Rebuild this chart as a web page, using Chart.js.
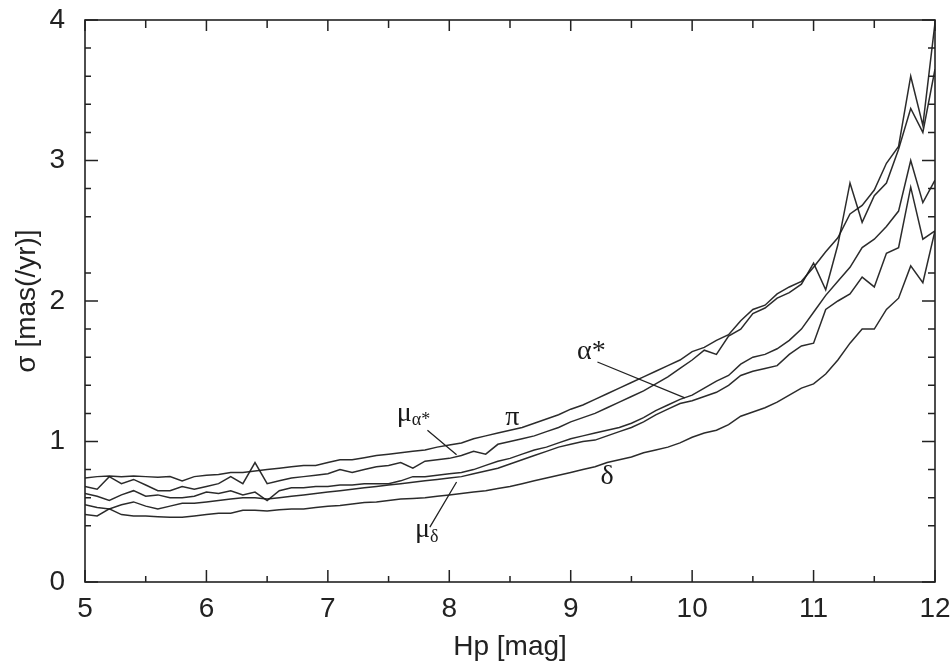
<!DOCTYPE html>
<html>
<head>
<meta charset="utf-8">
<script src="https://cdn.jsdelivr.net/npm/chart.js@4/dist/chart.umd.min.js"></script>
<style>
html,body{margin:0;padding:0;background:#fff;}
#c{display:block;}
</style>
</head>
<body>
<canvas id="c" width="952" height="664"></canvas>
<script>
// ---- data ----
const hp = [5.0,5.1,5.2,5.3,5.4,5.5,5.6,5.7,5.8,5.9,
            6.0,6.1,6.2,6.3,6.4,6.5,6.6,6.7,6.8,6.9,
            7.0,7.1,7.2,7.3,7.4,7.5,7.6,7.7,7.8,7.9,
            8.0,8.1,8.2,8.3,8.4,8.5,8.6,8.7,8.8,8.9,
            9.0,9.1,9.2,9.3,9.4,9.5,9.6,9.7,9.8,9.9,
            10.0,10.1,10.2,10.3,10.4,10.5,10.6,10.7,10.8,10.9,
            11.0,11.1,11.2,11.3,11.4,11.5,11.6,11.7,11.8,11.9,12.0];

const sigmaPi = [0.74,0.75,0.755,0.75,0.755,0.75,0.745,0.75,0.72,0.75,
                 0.76,0.765,0.78,0.78,0.79,0.80,0.81,0.82,0.83,0.83,
                 0.85,0.87,0.87,0.885,0.90,0.91,0.92,0.93,0.94,0.96,
                 0.975,0.99,1.02,1.04,1.06,1.08,1.10,1.13,1.16,1.19,
                 1.23,1.26,1.30,1.34,1.38,1.42,1.46,1.50,1.54,1.58,
                 1.64,1.67,1.72,1.76,1.86,1.94,1.97,2.05,2.10,2.14,
                 2.24,2.35,2.45,2.62,2.68,2.79,2.98,3.10,3.60,3.25,3.98];

const sigmaMuA = [0.68,0.66,0.75,0.70,0.73,0.69,0.65,0.65,0.68,0.66,
                  0.68,0.70,0.75,0.70,0.85,0.70,0.72,0.74,0.75,0.76,
                  0.77,0.80,0.78,0.80,0.82,0.83,0.85,0.81,0.86,0.87,
                  0.88,0.90,0.93,0.91,0.98,1.00,1.02,1.04,1.07,1.10,
                  1.14,1.17,1.20,1.24,1.28,1.32,1.36,1.41,1.46,1.52,
                  1.58,1.65,1.62,1.75,1.80,1.91,1.95,2.02,2.06,2.12,
                  2.27,2.08,2.40,2.84,2.56,2.75,2.84,3.08,3.37,3.20,3.65];

const sigmaA = [0.63,0.61,0.58,0.62,0.65,0.61,0.62,0.60,0.60,0.61,
                0.64,0.63,0.65,0.62,0.64,0.58,0.65,0.67,0.67,0.68,
                0.68,0.69,0.69,0.70,0.70,0.70,0.72,0.75,0.75,0.76,
                0.77,0.78,0.80,0.83,0.86,0.88,0.91,0.94,0.96,0.99,
                1.02,1.04,1.06,1.08,1.10,1.13,1.17,1.22,1.26,1.30,
                1.33,1.38,1.43,1.47,1.55,1.60,1.62,1.66,1.72,1.80,
                1.92,2.04,2.14,2.24,2.38,2.44,2.53,2.64,3.00,2.70,2.86];

const sigmaMuD = [0.55,0.53,0.52,0.55,0.57,0.54,0.52,0.54,0.56,0.56,
                  0.57,0.58,0.59,0.60,0.60,0.59,0.60,0.61,0.62,0.63,
                  0.64,0.65,0.66,0.67,0.68,0.69,0.70,0.71,0.72,0.73,
                  0.74,0.75,0.77,0.79,0.81,0.84,0.87,0.90,0.93,0.96,
                  0.98,1.00,1.01,1.04,1.07,1.10,1.14,1.19,1.23,1.27,
                  1.29,1.32,1.35,1.40,1.47,1.50,1.52,1.54,1.62,1.68,
                  1.70,1.94,2.00,2.05,2.17,2.10,2.34,2.38,2.81,2.44,2.50];

const sigmaD = [0.48,0.47,0.52,0.48,0.47,0.47,0.465,0.46,0.46,0.47,
                0.48,0.49,0.49,0.51,0.51,0.505,0.515,0.52,0.52,0.53,
                0.54,0.545,0.555,0.565,0.57,0.58,0.59,0.595,0.60,0.61,
                0.62,0.63,0.64,0.65,0.665,0.68,0.70,0.72,0.74,0.76,
                0.78,0.80,0.82,0.85,0.87,0.89,0.92,0.94,0.96,0.99,
                1.03,1.06,1.08,1.12,1.18,1.21,1.24,1.28,1.33,1.38,
                1.41,1.48,1.58,1.70,1.80,1.80,1.94,2.02,2.25,2.13,2.50];

const xMajorTicks = [5,6,7,8,9,10,11,12];
const xMinorTicks = [5.5,6.5,7.5,8.5,9.5,10.5,11.5];
const yMajorTicks = [0,1,2,3,4];
const yMinorTicks = [0.4,0.6,0.8,1.2,1.4,1.6,1.8,2.2,2.6,2.8,3.2,3.4,3.6,3.8];

// ---- label annotations (data coordinates) ----
const curveLabels = [
  {main:'π',  sub:'',   x:8.52, y:1.17},
  {main:'μ',  sub:'α*', x:7.63, y:1.20},
  {main:'α*', sub:'',   x:9.17, y:1.64},
  {main:'δ',  sub:'',   x:9.30, y:0.75},
  {main:'μ',  sub:'δ',  x:7.78, y:0.37}
];
const leaderLines = [
  [[7.82,1.08],[8.06,0.905]],
  [[9.22,1.566],[9.94,1.31]],
  [[8.06,0.712],[7.84,0.39]]
];

const series = [sigmaPi, sigmaMuA, sigmaA, sigmaMuD, sigmaD];
const names = ['π','μα*','α*','μδ','δ'];

const datasets = series.map((s,i)=>({
  label: names[i],
  data: hp.map((h,j)=>({x:h, y:s[j]})),
  borderColor:'rgba(25,25,25,0.92)',
  borderWidth:1.5,
  pointRadius:0,
  tension:0,
  fill:false
}));

const framePlugin = {
  id:'frameTicks',
  afterDraw(chart){
    const {ctx, chartArea:{left,right,top,bottom}, scales:{x,y}} = chart;
    ctx.save();
    ctx.strokeStyle='#222';
    ctx.lineWidth=1.6;
    ctx.strokeRect(left,top,right-left,bottom-top);
    ctx.lineWidth=1.5;
    ctx.beginPath();
    xMajorTicks.forEach(v=>{const p=x.getPixelForValue(v);
      ctx.moveTo(p,bottom); ctx.lineTo(p,bottom-12);
      ctx.moveTo(p,top); ctx.lineTo(p,top+11);});
    xMinorTicks.forEach(v=>{const p=x.getPixelForValue(v);
      ctx.moveTo(p,bottom); ctx.lineTo(p,bottom-6);
      ctx.moveTo(p,top); ctx.lineTo(p,top+8);});
    yMajorTicks.forEach(v=>{const p=y.getPixelForValue(v);
      ctx.moveTo(left,p); ctx.lineTo(left+13,p);
      ctx.moveTo(right,p); ctx.lineTo(right-13,p);});
    yMinorTicks.forEach(v=>{const p=y.getPixelForValue(v);
      ctx.moveTo(left,p); ctx.lineTo(left+6,p);
      ctx.moveTo(right,p); ctx.lineTo(right-7,p);});
    ctx.stroke();

    // leader lines
    ctx.lineWidth=1.3;
    ctx.strokeStyle='#222';
    ctx.beginPath();
    leaderLines.forEach(l=>{
      ctx.moveTo(x.getPixelForValue(l[0][0]), y.getPixelForValue(l[0][1]));
      ctx.lineTo(x.getPixelForValue(l[1][0]), y.getPixelForValue(l[1][1]));
    });
    ctx.stroke();

    // labels
    ctx.fillStyle='#1a1a1a';
    ctx.textBaseline='middle';
    curveLabels.forEach(l=>{
      const px=x.getPixelForValue(l.x), py=y.getPixelForValue(l.y);
      ctx.font='28px "Liberation Serif", "DejaVu Serif", serif';
      ctx.textAlign='center';
      ctx.fillText(l.main, px, py);
      if(l.sub){
        const w=ctx.measureText(l.main).width;
        ctx.font='18px "Liberation Serif", "DejaVu Serif", serif';
        ctx.textAlign='left';
        ctx.fillText(l.sub, px+w/2, py+7);
      }
    });
    ctx.restore();
  }
};

function clearPad(s){ s.paddingTop=0; s.paddingBottom=0; s.paddingLeft=0; s.paddingRight=0; }

new Chart(document.getElementById('c'), {
  type:'line',
  data:{datasets},
  options:{
    responsive:false,
    animation:false,
    devicePixelRatio:1,
    layout:{padding:{left:0,top:20,right:17,bottom:0}},
    plugins:{legend:{display:false}, tooltip:{enabled:false}},
    scales:{
      x:{
        type:'linear', min:5, max:12,
        afterFit(s){ s.height=82; clearPad(s); },
        grid:{display:false, drawTicks:false},
        border:{display:false},
        ticks:{stepSize:1, padding:10, color:'#222',
               font:{family:'"Liberation Sans", Arial, sans-serif', size:28}},
        title:{display:true, text:'Hp [mag]', color:'#222', padding:{top:0,bottom:0},
               font:{family:'"Liberation Sans", Arial, sans-serif', size:28}}
      },
      y:{
        type:'linear', min:0, max:4,
        afterFit(s){ s.width=85; clearPad(s); },
        grid:{display:false, drawTicks:false},
        border:{display:false},
        ticks:{stepSize:1, padding:20, color:'#222',
               font:{family:'"Liberation Sans", Arial, sans-serif', size:28}},
        title:{display:true, text:'σ [mas(/yr)]', color:'#222', padding:{top:10,bottom:0},
               font:{family:'"Liberation Sans", Arial, sans-serif', size:28}}
      }
    }
  },
  plugins:[framePlugin]
});
</script>
</body>
</html>
